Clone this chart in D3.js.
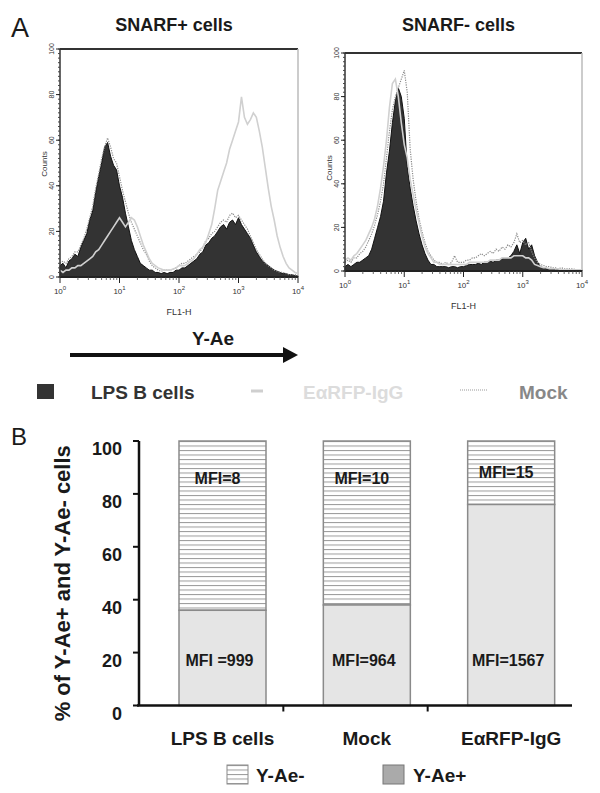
<!DOCTYPE html>
<html>
<head>
<meta charset="utf-8">
<script src="https://cdnjs.cloudflare.com/ajax/libs/d3/7.8.5/d3.min.js"></script>
<style>
body { margin: 0; background: #fff; }
svg { display: block; font-family: "Liberation Sans", Arial, sans-serif; }
</style>
</head>
<body>
<svg width="600" height="793"></svg>
<script>
var svg = d3.select('svg')

// FL1-H histograms, 20 channels per decade from 10^0 to 10^4 (81 channels)
var channelsPerDecade = 20
var snarfPosLPS = [
	5, 6, 4, 7, 8, 10, 9, 13, 16, 19,
	25, 29, 37, 44, 50, 57, 59, 53, 49, 47,
	40, 35, 28, 22, 16, 12, 9, 6, 5, 4,
	3, 3, 2, 2, 1.5, 2, 1.5, 2, 2, 3,
	3, 4, 4, 5, 6, 7, 8, 10, 11, 14,
	15, 17, 18, 20, 22, 23, 21, 24, 25, 23,
	26, 23, 21, 19, 17, 14, 11, 9, 7, 6,
	5, 4, 3, 2.5, 2, 1.5, 1.5, 1, 1, 0.5,
	0.5
]
var snarfPosEaRFP = [
	3, 2, 3, 3, 4, 4, 5, 5, 6, 7,
	8, 9, 11, 12, 14, 16, 18, 20, 22, 24,
	26, 24, 22, 24, 26, 25, 22, 18, 14, 11,
	8, 6, 5, 4, 3.5, 3, 3, 3, 3.5, 4,
	5, 5, 5, 6, 7, 8, 10, 12, 13, 15,
	19, 23, 30, 38, 42, 46, 50, 56, 60, 64,
	68, 79, 70, 67, 69, 72, 70, 64, 57, 48,
	39, 31, 25, 18, 13, 9, 6, 4, 3, 2,
	1.5
]
var snarfPosMock = [
	6, 7, 6, 8, 9, 11, 11, 14, 17, 21,
	26, 31, 39, 45, 52, 57, 61, 57, 52, 50,
	44, 38, 33, 28, 24, 21, 18, 15, 12, 10,
	7, 5, 4, 3, 2.5, 3, 3, 3, 3.5, 4,
	5, 6, 6, 7, 8, 9, 10, 11, 13, 16,
	17, 19, 20, 22, 24, 25, 24, 27, 28, 26,
	27, 25, 23, 21, 18, 15, 12, 10, 8, 6,
	5, 4, 3, 2.5, 2, 2, 1.5, 1, 1, 1,
	0.5
]
var snarfNegLPS = [
	2, 3, 2, 3, 4, 4, 5, 6, 7, 10,
	15, 20, 25, 32, 45, 55, 68, 78, 84, 80,
	70, 48, 38, 30, 23, 17, 12, 8, 5, 3,
	3, 2, 2, 2, 2, 1.5, 2, 2, 1.5, 2,
	2, 2.5, 3, 3, 3, 3.5, 3, 4, 4, 4.5,
	4, 5, 5, 5.5, 6, 6, 7, 9, 12, 8,
	13, 15, 10, 12, 7, 4, 2, 1.5, 1, 1,
	1, 0.5, 0.5, 0.5, 0.5, 0.5, 0.5, 0.5, 0.5, 0.5,
	0.5
]
var snarfNegEaRFP = [
	5, 6, 5, 7, 8, 10, 12, 14, 17, 20,
	24, 30, 38, 48, 60, 75, 86, 88, 80, 68,
	58, 52, 42, 35, 28, 22, 16, 11, 8, 6,
	4, 4, 3, 3, 3, 3, 3, 3, 3, 3,
	3, 3, 4, 4, 4, 4, 4, 4, 4, 5,
	5, 5, 5, 6, 6, 6, 6, 7, 7, 7,
	7, 6, 6, 5, 3, 2.5, 2, 1.5, 1.5, 1,
	1, 1, 1, 0.5, 0.5, 0.5, 0.5, 0.5, 0.5, 0.5,
	0.5
]
var snarfNegMock = [
	4, 5, 4, 6, 6, 8, 9, 11, 14, 17,
	21, 26, 32, 40, 52, 64, 74, 80, 84, 88,
	92, 82, 56, 42, 32, 24, 18, 13, 9, 7,
	5, 4, 4, 3, 4, 3, 4, 7, 4, 4,
	4, 5, 5, 6, 6, 7, 8, 7, 8, 9,
	8, 10, 9, 11, 10, 12, 11, 13, 17, 13,
	14, 12, 13, 9, 6, 4, 3, 2.5, 2, 2,
	1.5, 1.5, 1, 1.5, 1, 1, 1, 1, 0.5, 0.5,
	0.5
]
var histYTicks = [0, 20, 40, 60, 80, 100]
var decades = [0, 1, 2, 3, 4]

// Panel B: stacked percentages and MFI
var groups = ['LPS B cells', 'Mock', 'EαRFP-IgG']
var pctPositive = [36, 38, 76]
var mfiNegative = ['MFI=8', 'MFI=10', 'MFI=15']
var mfiPositive = ['MFI =999', 'MFI=964', 'MFI=1567']
var pctTicks = [0, 20, 40, 60, 80, 100]

var textColor = '#1a1a1a'

// hatch pattern for Y-Ae- segments
var defs = svg.append('defs')
var hatch = defs.append('pattern')
	.attr('id', 'hatch')
	.attr('patternUnits', 'userSpaceOnUse')
	.attr('width', 8)
	.attr('height', 4.5)
hatch.append('rect').attr('width', 8).attr('height', 4.5).attr('fill', '#fff')
hatch.append('line')
	.attr('x1', 0).attr('x2', 8)
	.attr('y1', 0.5).attr('y2', 0.5)
	.attr('stroke', '#9a9a9a')
	.attr('stroke-width', 1)

// ---------- Panel A ----------
svg.append('text').text('A')
	.attr('x', 11).attr('y', 37)
	.attr('font-size', 27)
	.attr('fill', textColor)

var panels = [
	{title: 'SNARF+ cells', x0: 60, x1: 298, y0: 49, y1: 277, lps: snarfPosLPS, ea: snarfPosEaRFP, mock: snarfPosMock},
	{title: 'SNARF- cells', x0: 345, x1: 582, y0: 53, y1: 271, lps: snarfNegLPS, ea: snarfNegEaRFP, mock: snarfNegMock}
]

panels.forEach(drawHistogram)

function drawHistogram(p) {
	var g = svg.append('g')
	var x = d3.scaleLog().domain([1, 1e4]).range([p.x0, p.x1])
	var y = d3.scaleLinear().domain([0, 100]).range([p.y1, p.y0])
	var fl1 = function(d, i) { return x(Math.pow(10, i / channelsPerDecade)) }

	g.append('text').text(p.title)
		.attr('x', (p.x0 + p.x1) / 2 - 5)
		.attr('y', 31)
		.attr('text-anchor', 'middle')
		.attr('font-size', 18)
		.attr('font-weight', 'bold')
		.attr('fill', textColor)

	// frame: top dark, right light
	g.append('line')
		.attr('x1', p.x0).attr('x2', p.x1)
		.attr('y1', p.y0).attr('y2', p.y0)
		.attr('stroke', '#333').attr('stroke-width', 2)
	g.append('line')
		.attr('x1', p.x1).attr('x2', p.x1)
		.attr('y1', p.y0).attr('y2', p.y1)
		.attr('stroke', '#bbb').attr('stroke-width', 1.5)

	var area = d3.area().x(fl1).y0(p.y1).y1(function(d) { return y(d) })
	var line = d3.line().x(fl1).y(function(d) { return y(d) })

	g.append('path')
		.attr('d', area(p.lps))
		.attr('fill', '#333')
		.attr('stroke', '#111')
		.attr('stroke-width', 1)
	g.append('path')
		.attr('d', line(p.mock))
		.attr('fill', 'none')
		.attr('stroke', '#8a8a8a')
		.attr('stroke-width', 1.2)
		.attr('stroke-dasharray', '1.2,1.2')
	g.append('path')
		.attr('d', line(p.ea))
		.attr('fill', 'none')
		.attr('stroke', '#d0d0d0')
		.attr('stroke-width', 1.6)

	// axes
	g.append('line')
		.attr('x1', p.x0).attr('x2', p.x1)
		.attr('y1', p.y1).attr('y2', p.y1)
		.attr('stroke', '#222').attr('stroke-width', 2)
	g.append('line')
		.attr('x1', p.x0).attr('x2', p.x0)
		.attr('y1', p.y0).attr('y2', p.y1)
		.attr('stroke', '#333').attr('stroke-width', 1.5)

	var minorX = []
	decades.slice(0, -1).forEach(function(e) {
		for (var k = 2; k < 10; k++) minorX.push(k * Math.pow(10, e))
	})
	g.selectAll('.minx').data(minorX).enter().append('line')
		.attr('x1', function(d) { return x(d) }).attr('x2', function(d) { return x(d) })
		.attr('y1', p.y1).attr('y2', p.y1 + 3)
		.attr('stroke', '#444').attr('stroke-width', 0.8)
	g.selectAll('.majx').data(decades).enter().append('line')
		.attr('x1', function(d) { return x(Math.pow(10, d)) }).attr('x2', function(d) { return x(Math.pow(10, d)) })
		.attr('y1', p.y1).attr('y2', p.y1 + 6)
		.attr('stroke', '#222').attr('stroke-width', 1)

	var xl = g.selectAll('.xl').data(decades).enter().append('text')
		.attr('x', function(d) { return x(Math.pow(10, d)) })
		.attr('y', p.y1 + 17)
		.attr('text-anchor', 'middle')
		.attr('font-size', 8)
		.attr('fill', '#333')
	xl.append('tspan').text('10')
	xl.append('tspan').text(function(d) { return d })
		.attr('font-size', 6)
		.attr('dy', -4)

	g.append('text').text('FL1-H')
		.attr('x', (p.x0 + p.x1) / 2)
		.attr('y', p.y1 + 38)
		.attr('text-anchor', 'middle')
		.attr('font-size', 9)
		.attr('fill', '#333')

	g.selectAll('.miny').data(y.ticks(50)).enter().append('line')
		.attr('x1', p.x0 - 2).attr('x2', p.x0)
		.attr('y1', function(d) { return y(d) }).attr('y2', function(d) { return y(d) })
		.attr('stroke', '#444').attr('stroke-width', 1)
	g.selectAll('.majy').data(histYTicks).enter().append('line')
		.attr('x1', p.x0 - 4).attr('x2', p.x0)
		.attr('y1', function(d) { return y(d) }).attr('y2', function(d) { return y(d) })
		.attr('stroke', '#222').attr('stroke-width', 1)
	g.selectAll('.yl').data(histYTicks).enter().append('text')
		.text(function(d) { return d })
		.attr('transform', function(d) { return 'translate(' + (p.x0 - 6) + ',' + y(d) + ') rotate(-90)' })
		.attr('text-anchor', 'middle')
		.attr('font-size', 7)
		.attr('fill', '#333')
	g.append('text').text('Counts')
		.attr('transform', 'translate(' + (p.x0 - 13) + ',' + (p.y0 + 115) + ') rotate(-90)')
		.attr('text-anchor', 'middle')
		.attr('font-size', 8)
		.attr('fill', '#333')
}

// Y-Ae arrow
svg.append('text').text('Y-Ae')
	.attr('x', 213).attr('y', 345)
	.attr('text-anchor', 'middle')
	.attr('font-size', 19)
	.attr('font-weight', 'bold')
	.attr('fill', textColor)
svg.append('line')
	.attr('x1', 70).attr('x2', 285)
	.attr('y1', 355).attr('y2', 355)
	.attr('stroke', '#111').attr('stroke-width', 4)
svg.append('path')
	.attr('d', 'M 283 347 L 298 355 L 283 363 Z')
	.attr('fill', '#111')

// legend for histograms
var legA = svg.append('g').attr('font-size', 19).attr('font-weight', 'bold')
legA.append('rect').attr('x', 37).attr('y', 384).attr('width', 17).attr('height', 15).attr('fill', '#333')
legA.append('text').text('LPS B cells').attr('x', 91).attr('y', 399).attr('fill', '#333')
legA.append('line').attr('x1', 251).attr('x2', 263).attr('y1', 391).attr('y2', 391)
	.attr('stroke', '#cfcfcf').attr('stroke-width', 3)
legA.append('text').text('EαRFP-IgG').attr('x', 303).attr('y', 399).attr('fill', '#dcdcdc')
legA.append('line').attr('x1', 460).attr('x2', 487).attr('y1', 390).attr('y2', 390)
	.attr('stroke', '#999').attr('stroke-width', 1).attr('stroke-dasharray', '1,1')
legA.append('text').text('Mock').attr('x', 519).attr('y', 399).attr('fill', '#888')

// ---------- Panel B ----------
svg.append('text').text('B')
	.attr('x', 11).attr('y', 445)
	.attr('font-size', 24)
	.attr('fill', textColor)

var xB = d3.scaleBand().domain(groups).range([139, 572])
var yB = d3.scaleLinear().domain([0, 100]).range([705.5, 441])
var barW = 87
var barX = function(i) { return xB(groups[i]) + 40 }

var bars = svg.append('g')
groups.forEach(function(gname, i) {
	bars.append('rect')
		.attr('x', barX(i)).attr('width', barW)
		.attr('y', yB(100)).attr('height', yB(pctPositive[i]) - yB(100))
		.attr('fill', 'url(#hatch)')
		.attr('stroke', '#8a8a8a').attr('stroke-width', 1.5)
	bars.append('rect')
		.attr('x', barX(i)).attr('width', barW)
		.attr('y', yB(pctPositive[i])).attr('height', yB(0) - yB(pctPositive[i]))
		.attr('fill', '#e5e5e5')
		.attr('stroke', '#8a8a8a').attr('stroke-width', 1.5)
	bars.append('text').text(mfiNegative[i])
		.attr('x', barX(i) + barW / 2 - 5)
		.attr('y', Math.min(yB((100 + pctPositive[i]) / 2), yB(86)))
		.attr('dy', '0.35em')
		.attr('text-anchor', 'middle')
		.attr('font-size', 16).attr('font-weight', 'bold')
		.attr('fill', textColor)
	bars.append('text').text(mfiPositive[i])
		.attr('x', barX(i) + barW / 2 - 3)
		.attr('y', yB(17))
		.attr('dy', '0.35em')
		.attr('text-anchor', 'middle')
		.attr('font-size', 16).attr('font-weight', 'bold')
		.attr('fill', textColor)
	svg.append('text').text(gname)
		.attr('x', barX(i) + barW / 2)
		.attr('y', 745)
		.attr('text-anchor', 'middle')
		.attr('font-size', 19).attr('font-weight', 'bold')
		.attr('fill', textColor)
})

// axes
svg.append('line')
	.attr('x1', 139).attr('x2', 139)
	.attr('y1', yB(100)).attr('y2', yB(0))
	.attr('stroke', '#111').attr('stroke-width', 2.5)
svg.append('line')
	.attr('x1', 137).attr('x2', 572)
	.attr('y1', yB(0)).attr('y2', yB(0))
	.attr('stroke', '#111').attr('stroke-width', 2.5)
svg.selectAll('.yt').data(pctTicks).enter().append('line')
	.attr('x1', 133).attr('x2', 139)
	.attr('y1', function(d) { return yB(d) }).attr('y2', function(d) { return yB(d) })
	.attr('stroke', '#111').attr('stroke-width', 2)
svg.selectAll('.ytl').data(pctTicks).enter().append('text')
	.text(function(d) { return d })
	.attr('x', 122)
	.attr('y', function(d) { return yB(d) + 14 })
	.attr('text-anchor', 'end')
	.attr('font-size', 18).attr('font-weight', 'bold')
	.attr('fill', textColor)
svg.selectAll('.xt').data(groups.slice(1)).enter().append('line')
	.attr('x1', function(d) { return xB(d) }).attr('x2', function(d) { return xB(d) })
	.attr('y1', yB(0)).attr('y2', yB(0) + 6)
	.attr('stroke', '#111').attr('stroke-width', 2)

svg.append('text').text('% of Y-Ae+ and Y-Ae- cells')
	.attr('transform', 'translate(70,' + ((yB(0) + yB(100)) / 2 + 10) + ') rotate(-90)')
	.attr('text-anchor', 'middle')
	.attr('font-size', 22).attr('font-weight', 'bold')
	.attr('fill', textColor)

// legend for bars
var legB = svg.append('g').attr('font-size', 19).attr('font-weight', 'bold').attr('fill', textColor)
legB.append('rect').attr('x', 227).attr('y', 765).attr('width', 21).attr('height', 19)
	.attr('fill', 'url(#hatch)').attr('stroke', '#8a8a8a').attr('stroke-width', 1)
legB.append('text').text('Y-Ae-').attr('x', 256).attr('y', 782)
legB.append('rect').attr('x', 383).attr('y', 765).attr('width', 21).attr('height', 19)
	.attr('fill', '#aaa').attr('stroke', '#777').attr('stroke-width', 1)
legB.append('text').text('Y-Ae+').attr('x', 413).attr('y', 782)
</script>
</body>
</html>
